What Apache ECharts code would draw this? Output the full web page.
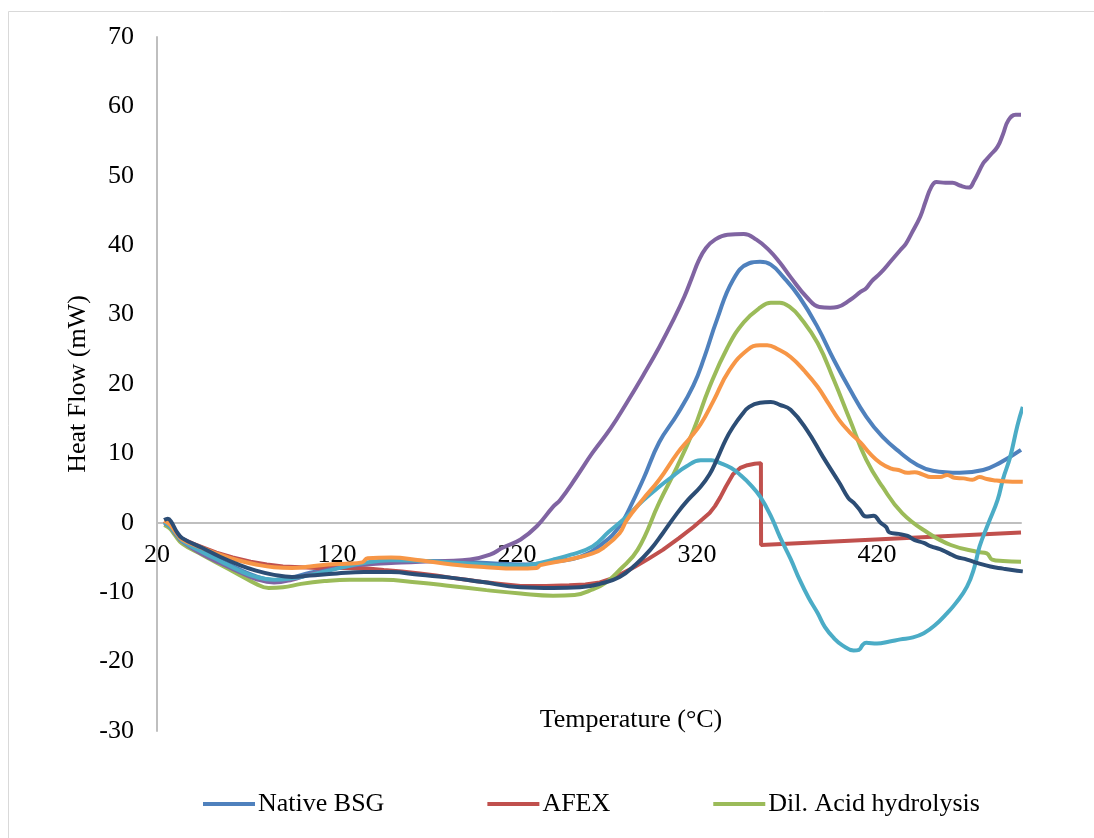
<!DOCTYPE html>
<html>
<head>
<meta charset="utf-8">
<title>Heat Flow vs Temperature</title>
<script src="https://cdn.jsdelivr.net/npm/echarts@6/dist/echarts.min.js"></script>
<style>
  html, body { margin: 0; padding: 0; background: #ffffff; }
  #chart { width: 1094px; height: 838px; }
</style>
</head>
<body>
<div id="chart"></div>
<script>
// DSC traces: [temperature °C, heat flow mW]
const nativeBSG = [[24,0.3],[27,0],[30,-1.2],[34,-2.4],[40,-3.4],[50,-4.8],[60,-6.0],[70,-7.2],[80,-8.1],[88,-8.3],[95,-7.9],[105,-7.2],[120,-6.5],[135,-6.0],[150,-5.6],[170,-5.5],[190,-5.6],[210,-5.9],[225,-6.0],[240,-5.6],[255,-4.9],[268,-2.9],[277,-0.5],[282,1.8],[290,6.2],[299,11.6],[309,15.6],[318,19.8],[324,23.8],[331,29.2],[340,35],[349,37.4],[355,37.6],[361,37.2],[368,35.4],[377,32.5],[387,28.2],[396,23.5],[405,19.2],[414,15.3],[423,12.4],[433,10.1],[442,8.4],[451,7.5],[466,7.2],[479,7.6],[488,8.6],[500,10.5]];

const afex = [[24,0.2],[27,-0.3],[30,-1.2],[34,-2.3],[40,-3.0],[45,-3.5],[53,-4.3],[62,-5.0],[72,-5.6],[81,-6.0],[90,-6.3],[100,-6.4],[109,-6.5],[118,-6.5],[127,-6.5],[137,-6.6],[146,-6.8],[156,-7.0],[166,-7.3],[175,-7.6],[183,-7.9],[192,-8.2],[200,-8.5],[211,-8.8],[222,-9.1],[236,-9.1],[249,-9.0],[258,-8.9],[266,-8.6],[272,-8.1],[277,-7.5],[285,-6.4],[293,-5.2],[301,-3.9],[310,-2.2],[318,-0.6],[323,0.5],[327,1.4],[330,2.4],[333,3.7],[336,5.2],[340,7.0],[344,7.9],[348,8.3],[352,8.5],[355.5,8.6],[355.6,-3.2],[500,-1.4]];

const dilAcid = [[24,-0.3],[27,-0.8],[30,-1.8],[34,-3.0],[45,-4.6],[55,-6.0],[65,-7.4],[75,-8.8],[82,-9.4],[90,-9.3],[100,-8.8],[113,-8.4],[127,-8.2],[145,-8.2],[165,-8.6],[183,-9.1],[203,-9.7],[222,-10.2],[240,-10.5],[252,-10.4],[262,-9.6],[270,-8.5],[277,-6.8],[287,-3.9],[299,2.9],[309,8.1],[318,13.3],[327,19.6],[337,25.3],[346,28.9],[355,31],[361,31.7],[366,31.7],[372,31],[377,29.7],[387,25.9],[396,20.6],[405,14.8],[414,9.1],[423,5.2],[434,1.4],[448,-1.4],[461,-3.2],[476,-4.2],[481,-4.4],[484,-5.3],[490,-5.5],[500,-5.6]];

const series4 = [[24,0],[27,-0.5],[30,-1.5],[34,-2.7],[45,-4.5],[55,-5.8],[65,-7.0],[75,-8.1],[85,-8.6],[95,-8.2],[105,-7.4],[120,-6.5],[135,-6.0],[150,-5.8],[166,-5.6],[180,-5.5],[194,-5.3],[205,-4.6],[212,-3.6],[222,-2.4],[231,-0.5],[240,2.3],[244,3.3],[253,6.6],[262,10.1],[272,13.6],[281,17.3],[290,21.2],[299,25.3],[307,29.3],[313,32.6],[317,35.2],[321,37.8],[325,39.6],[330,40.8],[337,41.5],[346,41.6],[353,40.8],[360,39.3],[366,37.5],[372,35.4],[381,32.5],[388,31.1],[394,31.0],[398,31.1],[405,32.1],[411,33.3],[414,33.8],[417,34.8],[422,36],[428,37.8],[433,39.3],[436,40.2],[439,41.6],[444,44.1],[447,46.3],[450,48.3],[453,49.1],[458,49.0],[462,49.0],[466,48.6],[471,48.3],[474,49.3],[479,51.8],[481,52.4],[483,53.0],[487,54.2],[490,56.0],[493,58.0],[497,58.8],[500,58.8]];

const series5 = [[24,0.1],[27,-0.5],[30,-1.4],[34,-2.6],[45,-4.2],[55,-5.5],[65,-6.8],[75,-7.8],[85,-8.2],[95,-8.0],[105,-7.5],[120,-6.6],[135,-5.8],[150,-5.4],[170,-5.5],[190,-5.8],[210,-6.1],[225,-6.1],[240,-5.3],[250,-4.6],[262,-3.4],[271,-1.3],[281,0.9],[290,3.2],[299,5.2],[307,6.8],[314,8.1],[322,9.0],[328,9.0],[333,8.6],[339,7.9],[344,6.9],[350,5.4],[355,3.8],[361,1.0],[366,-2.0],[372,-5.2],[377,-8.2],[382,-10.8],[387,-13],[391,-15],[396,-16.6],[401,-17.7],[407,-18.4],[410,-18.3],[412,-17.6],[414,-17.3],[420,-17.4],[427,-17.1],[433,-16.8],[440,-16.5],[446,-15.9],[452,-14.8],[459,-13],[464,-11.5],[470,-9.2],[474,-6.5],[477,-3.4],[482,0],[487,3.3],[490,6.3],[494,9.5],[498,14],[501,16.7]];

const series6 = [[24,0.3],[27,-0.2],[30,-1.2],[34,-2.4],[45,-3.6],[55,-4.6],[65,-5.4],[75,-6.0],[85,-6.4],[95,-6.5],[105,-6.3],[115,-6.0],[125,-5.9],[134,-5.7],[137,-5.1],[150,-5.0],[166,-5.4],[184,-6.0],[203,-6.4],[220,-6.6],[231,-6.5],[233,-6.1],[249,-5.3],[262,-4.4],[268,-3.6],[277,-1.5],[281,0.4],[290,3.4],[299,6.2],[309,10],[316,12.2],[322,14.2],[329,17.5],[338,22],[348,24.9],[355,25.6],[359,25.6],[365,25],[372,23.9],[380,21.8],[387,19.6],[393,17.2],[399,14.8],[405,13],[411,11.5],[416,10],[422,8.6],[428,7.8],[432,7.6],[437,7.2],[441,7.3],[445,7.0],[450,6.6],[455,6.6],[459,6.9],[463,6.5],[468,6.4],[473,6.2],[477,6.6],[481,6.3],[486,6.1],[490,6.0],[501,5.9]];

const series7 = [[24,0.4],[26,0.6],[28,0.1],[31,-1.3],[34,-2.2],[45,-3.6],[55,-4.9],[65,-6.0],[75,-6.9],[85,-7.5],[95,-7.8],[105,-7.6],[120,-7.3],[135,-7.1],[150,-7.1],[166,-7.5],[183,-7.9],[200,-8.5],[222,-9.3],[240,-9.4],[255,-9.3],[266,-8.8],[277,-7.8],[286,-6.0],[294,-3.9],[301,-1.5],[309,1.4],[315,3.3],[322,5.2],[327,7.0],[331,9.1],[336,12],[340,13.8],[345,15.6],[349,16.7],[355,17.3],[361,17.4],[366,17.0],[372,16.3],[381,13.4],[390,9.5],[399,5.8],[404,3.6],[407,2.9],[410,2.0],[414,0.9],[418,1.0],[422,0.0],[425,-0.6],[427,-1.4],[432,-1.6],[437,-1.9],[441,-2.5],[446,-2.9],[450,-3.4],[455,-3.8],[460,-4.4],[464,-4.9],[470,-5.3],[476,-5.8],[483,-6.3],[490,-6.6],[495,-6.8],[501,-7.0]];

const legendNames = ['Native BSG', 'AFEX', 'Dil. Acid hydrolysis'];
const yTitle = 'Heat Flow (mW)';
const xTitle = 'Temperature (°C)';

const FONT = '"Liberation Serif", "Times New Roman", serif';
const Y_MIN = -30, Y_MAX = 70;
const GRID = { left: 157, right: 73, top: 37, bottom: 107 };
// distance from the bottom of the plot up to the zero line, so the
// temperature axis and its labels sit on y = 0
const plotH = 838 - GRID.top - GRID.bottom;
const zeroOffset = plotH * (0 - Y_MIN) / (Y_MAX - Y_MIN);

function trace(name, data, color, smooth) {
  return {
    name: name,
    type: 'line',
    data: data,
    symbol: 'none',
    smooth: smooth,
    lineStyle: { color: color, width: 4 },
    itemStyle: { color: color },
    emphasis: { disabled: true }
  };
}

const chart = echarts.init(document.getElementById('chart'), null, { renderer: 'canvas' });

chart.setOption({
  animation: false,
  backgroundColor: '#ffffff',
  grid: { left: GRID.left, right: GRID.right, top: GRID.top, bottom: GRID.bottom, containLabel: false },
  legend: {
    data: legendNames,
    left: 203,
    top: 791,
    padding: 0,
    icon: 'rect',
    itemWidth: 52,
    itemHeight: 4,
    itemGap: 103,
    textStyle: { fontFamily: FONT, fontSize: 26, color: '#000000', padding: [0, 0, 0, -2] }
  },
  xAxis: {
    type: 'value',
    min: 20,
    max: 500,
    interval: 100,
    offset: -zeroOffset,
    axisLine: { onZero: false, lineStyle: { color: '#bfbfbf', width: 2 } },
    axisTick: { show: false },
    splitLine: { show: false },
    axisLabel: {
      showMaxLabel: false,
      margin: 19,
      fontFamily: FONT,
      fontSize: 26,
      color: '#000000'
    }
  },
  yAxis: {
    type: 'value',
    min: Y_MIN,
    max: Y_MAX,
    interval: 10,
    axisLine: { show: true, onZero: false, lineStyle: { color: '#bfbfbf', width: 2 } },
    axisTick: { show: false },
    splitLine: { show: false },
    axisLabel: {
      margin: 23,
      fontFamily: FONT,
      fontSize: 26,
      color: '#000000'
    }
  },
  graphic: [
    {
      type: 'rect',
      z: -10,
      silent: true,
      shape: { x: 8.5, y: 11.5, width: 1200, height: 900 },
      style: { fill: 'none', stroke: '#d9d9d9', lineWidth: 1 }
    },
    {
      type: 'text',
      x: 78,
      y: 384,
      rotation: Math.PI / 2,
      style: {
        text: yTitle,
        fontFamily: FONT,
        fontSize: 26,
        fill: '#000000',
        textAlign: 'center',
        textVerticalAlign: 'middle'
      }
    },
    {
      type: 'text',
      x: 631,
      y: 720,
      style: {
        text: xTitle,
        fontFamily: FONT,
        fontSize: 26,
        fill: '#000000',
        textAlign: 'center',
        textVerticalAlign: 'middle'
      }
    }
  ],
  series: [
    trace('Native BSG', nativeBSG, '#4F81BD', 0.45),
    trace('AFEX', afex, '#C0504D', false),
    trace('Dil. Acid hydrolysis', dilAcid, '#9BBB59', 0.45),
    trace('Series 4', series4, '#8064A2', 0.45),
    trace('Series 5', series5, '#4BACC6', 0.45),
    trace('Series 6', series6, '#F79646', 0.45),
    trace('Series 7', series7, '#2C4D75', 0.45)
  ]
});
</script>
</body>
</html>
